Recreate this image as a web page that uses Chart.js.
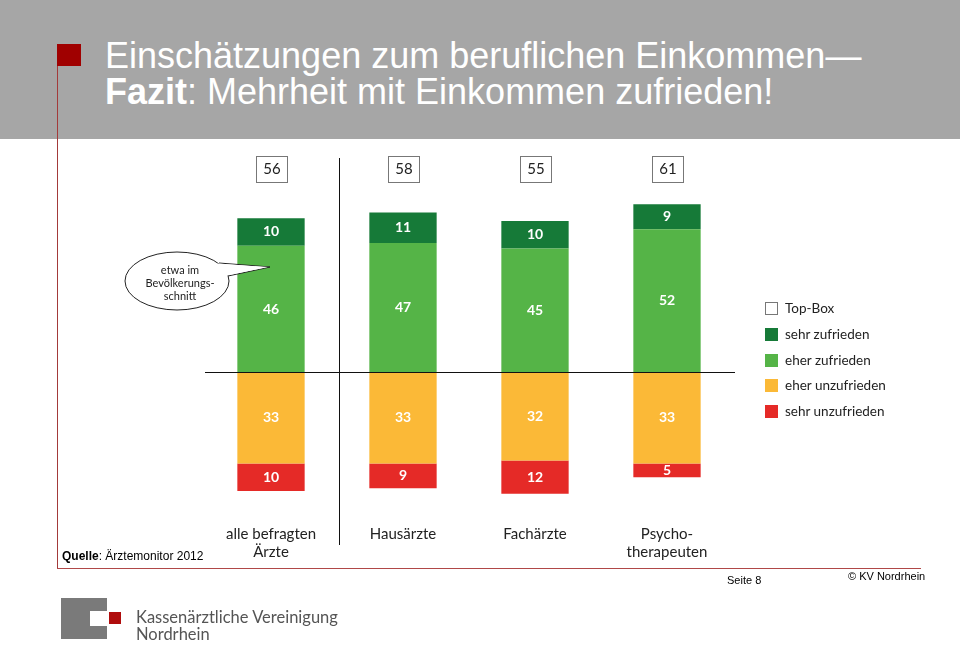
<!DOCTYPE html>
<html>
<head>
<meta charset="utf-8">
<script src="https://cdn.jsdelivr.net/npm/chart.js@4.4.0/dist/chart.umd.min.js"></script>
<style>
  body { margin: 0; width: 960px; height: 650px; position: relative; overflow: hidden; background: #fff; font-family: "Liberation Sans", Arial, sans-serif; }
  #header { position: absolute; left: 0; top: 0; width: 960px; height: 139px; background: #a6a6a6; }
  #redsq { position: absolute; left: 57px; top: 44px; width: 24px; height: 22px; background: #a00000; }
  #vline { position: absolute; left: 57px; top: 66px; width: 1px; height: 503px; background: #a33a3a; }
  #hline { position: absolute; left: 57px; top: 568px; width: 864px; height: 1px; background: #b04848; }
  .title { position: absolute; left: 105px; color: #fff; font-size: 36px; line-height: 34px; white-space: nowrap; }
  #chartBox { position: absolute; left: 0; top: 140px; width: 960px; height: 430px; }
  #legend { position: absolute; left: 765px; top: 300px; font-family: Lato, sans-serif; font-size: 13.5px; color: #222; }
  .item { position: absolute; left: 0; white-space: nowrap; height: 14px; }
  .sw { position: absolute; left: 0; top: 1px; width: 13px; height: 13px; }
  .item span { position: absolute; left: 20px; top: -1px; }
  .small { position: absolute; font-size: 12px; color: #000; white-space: nowrap; }
  #logoText { position: absolute; left: 136px; top: 609px; font-family: Lato, sans-serif; font-size: 16.5px; line-height: 16.5px; color: #555; }
</style>
</head>
<body>
<div id="header"></div>
<div id="redsq"></div>
<div id="vline"></div>
<div id="hline"></div>
<div class="title" style="top:39px">Einschätzungen zum beruflichen Einkommen—</div>
<div class="title" style="top:75px"><b>Fazit</b>: Mehrheit mit Einkommen zufrieden!</div>

<div id="chartBox"><canvas id="chart" width="960" height="430"></canvas></div>

<svg style="position:absolute;left:0;top:0" width="960" height="650">
  <path d="M219,263 L270,267 L228,276" fill="#fff" stroke="#222" stroke-width="1"/>
  <ellipse cx="177" cy="281" rx="52" ry="29" fill="#fff" stroke="#222" stroke-width="1"/>
  <path d="M217,263.5 L268,267 L227,275.5" fill="#fff" stroke="none"/>
  <g font-family="Lato, sans-serif" font-size="11" fill="#222" text-anchor="middle">
    <text x="180" y="274">etwa im</text>
    <text x="180" y="287">Bevölkerungs-</text>
    <text x="180" y="300">schnitt</text>
  </g>
</svg>

<div id="legend">
  <div class="item" style="top:1px"><div class="sw" style="background:#fff;border:1px solid #777;width:11px;height:11px"></div><span>Top-Box</span></div>
  <div class="item" style="top:27px"><div class="sw" style="background:#167a38"></div><span>sehr zufrieden</span></div>
  <div class="item" style="top:53px"><div class="sw" style="background:#55b447"></div><span>eher zufrieden</span></div>
  <div class="item" style="top:78px"><div class="sw" style="background:#fbb937"></div><span>eher unzufrieden</span></div>
  <div class="item" style="top:104px"><div class="sw" style="background:#e52a27"></div><span>sehr unzufrieden</span></div>
</div>

<div class="small" style="left:62px;top:549px"><b>Quelle</b>: Ärztemonitor 2012</div>
<div class="small" style="left:727px;top:574px;font-size:11px">Seite 8</div>
<div class="small" style="left:848px;top:570px;font-size:11px">© KV Nordrhein</div>

<div style="position:absolute;left:61px;top:598px;width:46px;height:41px;background:#7a7a7a"></div>
<div style="position:absolute;left:90px;top:611px;width:17px;height:15px;background:#fff"></div>
<div style="position:absolute;left:109px;top:612px;width:12px;height:12px;background:#b00d0d"></div>
<div id="logoText">Kassenärztliche Vereinigung<br>Nordrhein</div>

<script>
// Categories and values (percent)
const categories = [["alle befragten", "Ärzte"], "Hausärzte", "Fachärzte", ["Psycho-", "therapeuten"]];
const sehrZufrieden = [10, 11, 10, 9];
const eherZufrieden = [46, 47, 45, 52];
const eherUnzufrieden = [33, 33, 32, 33];
const sehrUnzufrieden = [10, 9, 12, 5];
const topBox = [56, 58, 55, 61];

const labelFont = "Lato, sans-serif";

// Draws the values inside the bars, the Top-Box boxes and the axis lines
const overlayPlugin = {
  id: "overlay",
  afterDatasetsDraw(chart) {
    const ctx = chart.ctx;
    const area = chart.chartArea;
    const x = chart.scales.x;
    const y = chart.scales.y;

    ctx.save();
    // values in segments
    ctx.fillStyle = "#fff";
    ctx.font = "bold 14px " + labelFont;
    ctx.textAlign = "center";
    ctx.textBaseline = "middle";
    chart.data.datasets.forEach((ds, di) => {
      const meta = chart.getDatasetMeta(di);
      meta.data.forEach((bar, i) => {
        const cy = (bar.y + bar.base) / 2;
        ctx.fillText(Math.abs(ds.data[i]), bar.x, cy);
      });
    });

    // Top-Box boxes
    ctx.font = "15px " + labelFont;
    ctx.fillStyle = "#222";
    ctx.strokeStyle = "#777";
    ctx.lineWidth = 1;
    const by = y.getPixelForValue(74);
    topBox.forEach((v, i) => {
      const bx = x.getPixelForValue(i);
      ctx.strokeRect(Math.round(bx - 15) + 0.5, Math.round(by - 13) + 0.5, 31, 26);
      ctx.fillText(v, bx + 1, by + 1);
    });

    // zero line
    const zy = Math.round(y.getPixelForValue(0)) + 0.5;
    ctx.strokeStyle = "#111";
    ctx.beginPath();
    ctx.moveTo(area.left, zy);
    ctx.lineTo(area.right + 2, zy);
    ctx.stroke();

    // separator between all doctors and subgroups
    const sx = Math.round((x.getPixelForValue(0) + x.getPixelForValue(1)) / 2) + 2.5;
    ctx.beginPath();
    ctx.moveTo(sx, area.top + 6);
    ctx.lineTo(sx, area.bottom + 21);
    ctx.stroke();
    ctx.restore();
  }
};

new Chart(document.getElementById("chart"), {
  type: "bar",
  data: {
    labels: categories,
    datasets: [
      { label: "eher zufrieden", data: eherZufrieden, backgroundColor: "#55b447" },
      { label: "sehr zufrieden", data: sehrZufrieden, backgroundColor: "#167a38" },
      { label: "eher unzufrieden", data: eherUnzufrieden.map((v) => -v), backgroundColor: "#fbb937" },
      { label: "sehr unzufrieden", data: sehrUnzufrieden.map((v) => -v), backgroundColor: "#e52a27" },
    ],
  },
  options: {
    responsive: false,
    animation: false,
    layout: { padding: { left: 205, right: 227, top: 12, bottom: 0 } },
    datasets: { bar: { categoryPercentage: 1, barPercentage: 0.51 } },
    scales: {
      x: {
        stacked: true,
        grid: { display: false, drawTicks: false },
        border: { display: false },
        ticks: { color: "#222", font: { family: labelFont, size: 15, lineHeight: 1.15 }, padding: 2, maxRotation: 0, autoSkip: false },
        afterFit: (s) => { s.height = 46; },
      },
      y: { stacked: true, display: false, min: -55, max: 80 },
    },
    plugins: { legend: { display: false }, tooltip: { enabled: false } },
  },
  plugins: [overlayPlugin],
});
</script>
</body>
</html>
